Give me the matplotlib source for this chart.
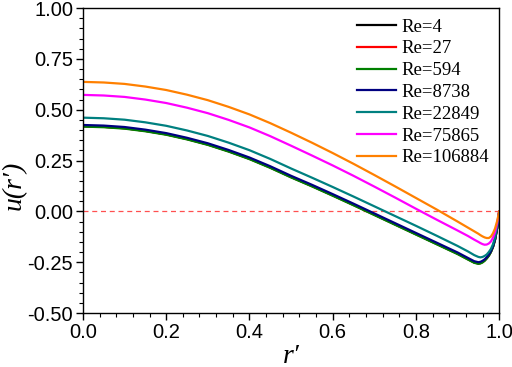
import numpy as np
import matplotlib
matplotlib.use("Agg")
import matplotlib.pyplot as plt
from matplotlib.ticker import MultipleLocator, AutoMinorLocator, FormatStrFormatter

# ── data ──────────────────────────────────────────────────────────────
r = [0.0, 0.05, 0.1, 0.15, 0.2, 0.25, 0.3, 0.35, 0.4, 0.45, 0.5, 0.55, 0.6, 0.65,
     0.7, 0.75, 0.8, 0.85, 0.9, 0.925, 0.94, 0.95, 0.955, 0.96, 0.965, 0.97,
     0.975, 0.98, 0.985, 0.99, 0.995, 1.0]

u_re4 = [0.419, 0.416, 0.409, 0.396, 0.379, 0.356, 0.329, 0.296, 0.259, 0.216, 0.169,
         0.125, 0.079, 0.032, -0.016, -0.064, -0.112, -0.160, -0.208, -0.235, -0.251,
         -0.256, -0.254, -0.249, -0.241, -0.230, -0.217, -0.199, -0.175, -0.139, -0.083, 0.0]
u_re27 = [0.419, 0.416, 0.409, 0.396, 0.379, 0.356, 0.329, 0.296, 0.259, 0.216, 0.169,
          0.125, 0.079, 0.032, -0.016, -0.064, -0.112, -0.160, -0.208, -0.235, -0.251,
          -0.256, -0.254, -0.249, -0.241, -0.230, -0.217, -0.199, -0.175, -0.139, -0.083, 0.0]
u_re594 = [0.417, 0.414, 0.407, 0.394, 0.377, 0.354, 0.327, 0.294, 0.257, 0.214, 0.167,
           0.123, 0.077, 0.030, -0.018, -0.066, -0.114, -0.162, -0.210, -0.237, -0.253,
           -0.258, -0.256, -0.251, -0.243, -0.232, -0.219, -0.201, -0.176, -0.140, -0.084, 0.0]
u_re8738 = [0.425, 0.422, 0.415, 0.402, 0.385, 0.362, 0.335, 0.302, 0.265, 0.222, 0.175,
            0.131, 0.085, 0.038, -0.010, -0.058, -0.106, -0.154, -0.202, -0.229, -0.245,
            -0.250, -0.248, -0.243, -0.236, -0.226, -0.213, -0.196, -0.172, -0.137, -0.082, 0.0]
u_re22849 = [0.461, 0.458, 0.451, 0.438, 0.421, 0.398, 0.371, 0.338, 0.301, 0.258, 0.211,
             0.166, 0.120, 0.073, 0.025, -0.023, -0.071, -0.120, -0.170, -0.197, -0.215,
             -0.224, -0.226, -0.224, -0.219, -0.212, -0.200, -0.185, -0.162, -0.128, -0.075, 0.0]
u_re75865 = [0.573, 0.570, 0.563, 0.550, 0.533, 0.510, 0.483, 0.450, 0.413, 0.370, 0.323,
             0.275, 0.226, 0.175, 0.122, 0.068, 0.013, -0.041, -0.094, -0.121, -0.139,
             -0.150, -0.156, -0.161, -0.164, -0.163, -0.158, -0.148, -0.130, -0.103, -0.060, 0.0]
u_re106884 = [0.637, 0.634, 0.627, 0.614, 0.597, 0.574, 0.547, 0.514, 0.477, 0.434, 0.387,
              0.338, 0.287, 0.234, 0.179, 0.123, 0.066, 0.009, -0.050, -0.080, -0.098,
              -0.110, -0.117, -0.123, -0.128, -0.131, -0.131, -0.124, -0.108, -0.084, -0.048, 0.0]

labels = ["Re=4", "Re=27", "Re=594", "Re=8738", "Re=22849", "Re=75865", "Re=106884"]
series = [u_re4, u_re27, u_re594, u_re8738, u_re22849, u_re75865, u_re106884]
colors = ["#000000", "#ff0000", "#008000", "#000080", "#008080", "#ff00ff", "#ff8000"]

SERIF = ["Liberation Serif", "DejaVu Serif"]

fig = plt.figure(figsize=(5.12, 3.67), dpi=100)
ax = fig.add_axes([0.162, 0.147, 0.813, 0.831])

ax.axhline(0, color="#ff5050", lw=0.9, ls=(0, (4, 3)), zorder=1)
for u, c, lab in zip(series, colors, labels):
    ax.plot(r, u, color=c, lw=1.6, label=lab, zorder=2)

ax.set_xlim(0, 1.0)
ax.set_ylim(-0.5, 1.0)
ax.xaxis.set_major_locator(MultipleLocator(0.2))
ax.yaxis.set_major_locator(MultipleLocator(0.25))
ax.xaxis.set_minor_locator(AutoMinorLocator(5))
ax.yaxis.set_minor_locator(AutoMinorLocator(5))
ax.xaxis.set_major_formatter(FormatStrFormatter("%.1f"))
ax.yaxis.set_major_formatter(FormatStrFormatter("%.2f"))
ax.tick_params(which="major", direction="out", length=5, width=1, labelsize=14.5,
               pad=2, top=False, right=False)
ax.tick_params(which="minor", direction="out", length=3, width=0.8,
               top=False, right=False)
for lbl in ax.get_xticklabels() + ax.get_yticklabels():
    lbl.set_fontfamily("Liberation Sans")
for s in ax.spines.values():
    s.set_linewidth(1.0)

ax.set_xlabel("r′", family=SERIF, style="italic", fontsize=20)
ax.xaxis.set_label_coords(0.5, -0.10)
ax.set_ylabel("u(r′)", family=SERIF, style="italic", fontsize=20)
ax.yaxis.set_label_coords(-0.135, 0.42)

ax.legend(loc="upper right", frameon=False, handlelength=2.05, handletextpad=0.3,
          labelspacing=0.25, borderaxespad=0.15,
          prop={"family": "Liberation Serif", "size": 13.5})

fig.savefig("out.png", dpi=100)
